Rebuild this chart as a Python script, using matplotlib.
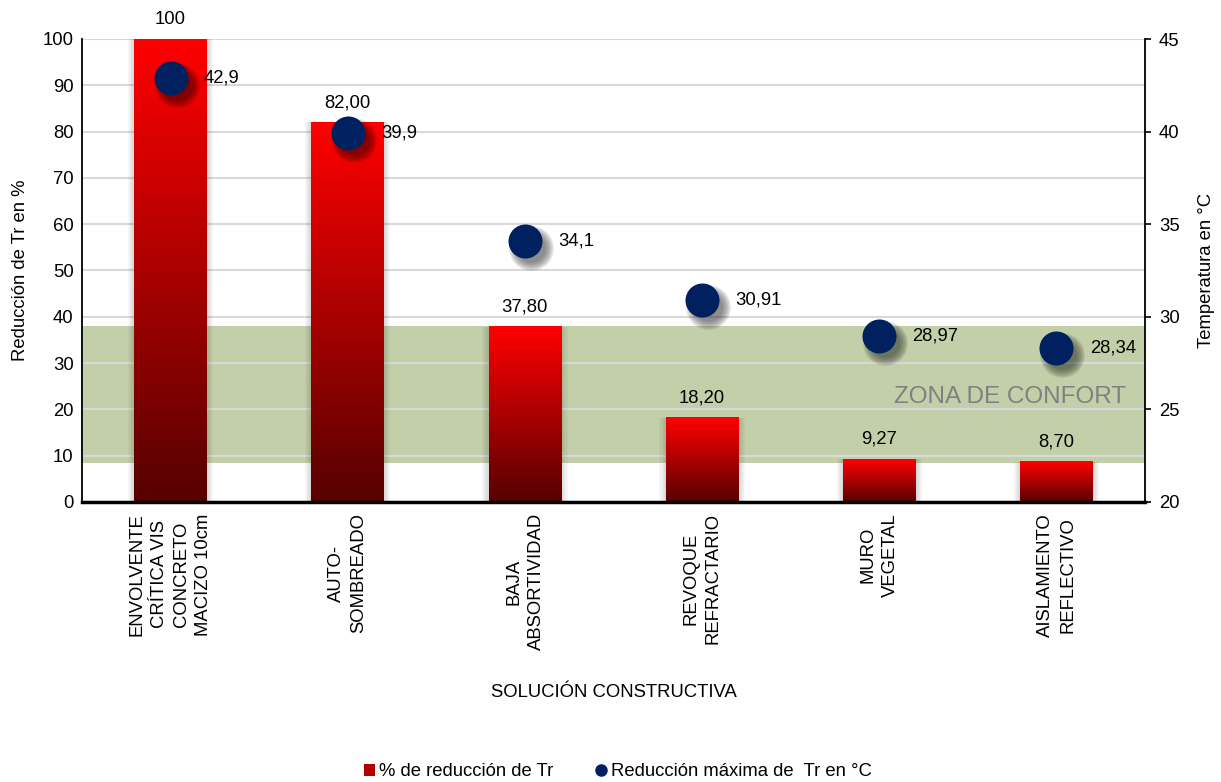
import numpy as np
import matplotlib
matplotlib.use("Agg")
import matplotlib.pyplot as plt
from matplotlib.colors import LinearSegmentedColormap
from matplotlib.patches import Rectangle
from matplotlib.lines import Line2D
from matplotlib.transforms import offset_copy, blended_transform_factory

plt.rcParams['font.family'] = ['Liberation Sans', 'DejaVu Sans']

categories = ["ENVOLVENTE\nCRÍTICA VIS\nCONCRETO\nMACIZO 10cm",
              "AUTO-\nSOMBREADO",
              "BAJA\nABSORTIVIDAD",
              "REVOQUE\nREFRACTARIO",
              "MURO\nVEGETAL",
              "AISLAMIENTO\nREFLECTIVO"]
pct_reduction = [100, 82.00, 37.80, 18.20, 9.27, 8.70]
pct_labels = ["100", "82,00", "37,80", "18,20", "9,27", "8,70"]
temp_max = [42.9, 39.9, 34.1, 30.91, 28.97, 28.34]
temp_labels = ["42,9", "39,9", "34,1", "30,91", "28,97", "28,34"]
comfort_zone = (22.1, 29.5)  # °C

FS = 13.3
fig = plt.figure(figsize=(12.21, 7.82), dpi=100)
ax1 = fig.add_axes([82/1221, 1-502/782, (1145-82)/1221, (502-39)/782])
ax2 = ax1.twinx()

x = np.arange(len(categories))
w = 0.41
ax1.set_xlim(-0.5, len(categories)-0.5)
ax1.set_ylim(0, 100)
ax2.set_ylim(20, 45)

# comfort zone band (temperature coordinates, drawn behind bars)
trans = blended_transform_factory(ax1.transAxes, ax2.transData)
ax1.add_patch(Rectangle((0, comfort_zone[0]), 1, comfort_zone[1]-comfort_zone[0],
                        transform=trans, facecolor='#c3cfa8', edgecolor='none', zorder=0.2))
ax1.text(0.9825, 25.65, "ZONA DE CONFORT", transform=trans, ha='right', va='center',
         fontsize=17.5, color='#808080', zorder=0.3)

ax1.set_axisbelow(True)
ax1.yaxis.grid(True, color='#d9d9d9', linewidth=1.5)
ax1.set_yticks(np.arange(0, 101, 10))

cmap = LinearSegmentedColormap.from_list('rg', ['#560000', '#ff0000'])
grad = np.linspace(0, 1, 256).reshape(-1, 1)
for xi, h, lab in zip(x, pct_reduction, pct_labels):
    # soft shadow
    for k in range(1, 7):
        ax1.add_patch(Rectangle((xi - w/2 - k*0.006, 0), w + 2*k*0.006, h,
                                facecolor='#404040', alpha=0.035, edgecolor='none', zorder=1))
    ax1.imshow(grad, extent=(xi - w/2, xi + w/2, 0, h), origin='lower', cmap=cmap,
               aspect='auto', zorder=2, interpolation='bilinear')
    ax1.annotate(lab, (xi, h), xytext=(0, 8), textcoords='offset points',
                 ha='center', va='bottom', fontsize=FS, zorder=5)
ax1.set_xlim(-0.5, len(categories)-0.5)
ax1.set_ylim(0, 100)
ax1.set_aspect('auto')

ax1.set_xticks(x)
ax1.set_xticklabels(categories, rotation=90, ha='center', va='top',
                    multialignment='center', fontsize=FS, linespacing=1.4)
ax1.tick_params(axis='x', length=0, pad=8)
ax1.tick_params(axis='y', length=0, labelsize=FS, pad=6)
ax1.set_ylabel("Reducción de Tr en %", fontsize=FS, labelpad=10)
ax1.set_xlabel("SOLUCIÓN CONSTRUCTIVA", fontsize=FS, labelpad=24)

for s in ['top']:
    ax1.spines[s].set_visible(False)
    ax2.spines[s].set_visible(False)
ax1.spines['bottom'].set_linewidth(2.5)
ax1.spines['left'].set_linewidth(1.3)
ax1.spines['right'].set_visible(False)
ax2.spines['left'].set_visible(False)
ax2.spines['bottom'].set_visible(False)
ax2.spines['right'].set_linewidth(1.3)

# dot shadows
for k in range(6):
    tr = offset_copy(ax2.transData, fig=fig, x=6, y=-7, units='dots')
    ax2.scatter(x, temp_max, s=440 + k*120, color='black', alpha=0.09, linewidths=0,
                transform=tr, zorder=3)
ax2.scatter(x, temp_max, s=600, color='#002060', linewidths=0, zorder=4)
for xi, t, lab in zip(x, temp_max, temp_labels):
    ax2.annotate(lab, (xi, t), xytext=(24, 0), textcoords='offset points',
                 ha='left', va='center', fontsize=FS, zorder=5)

ax2.set_yticks(np.arange(20, 46, 5))
ax2.tick_params(axis='y', length=4, width=1.2, labelsize=FS, pad=6)
ax2.set_ylabel("Temperatura en °C", fontsize=FS, labelpad=13)

handles = [Rectangle((0, 0), 1, 1, facecolor='#b00000', edgecolor='none'),
           Line2D([], [], marker='o', linestyle='none', color='#002060', markersize=8)]
fig.legend(handles, ["% de reducción de Tr", "Reducción máxima de  Tr en °C"],
           loc='center', bbox_to_anchor=(0.506, 1-772/782), ncol=2, frameon=False,
           fontsize=FS, handlelength=0.6, handleheight=0.6, handletextpad=0.2,
           columnspacing=2.3)

fig.savefig("out.png", dpi=100)
